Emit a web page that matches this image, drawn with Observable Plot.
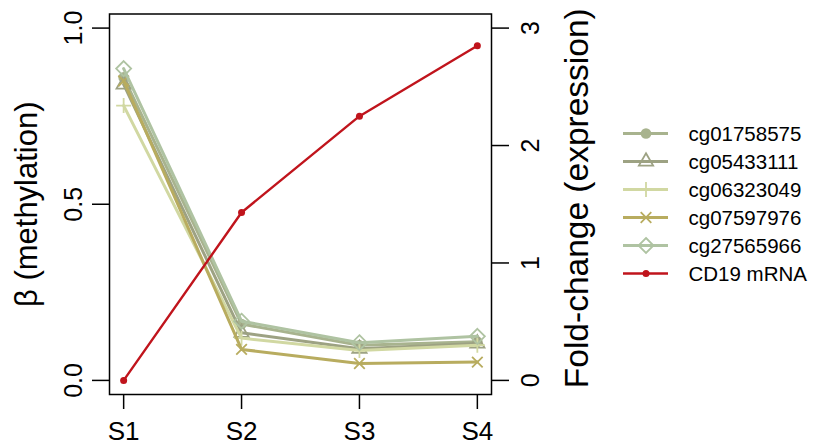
<!DOCTYPE html>
<html><head><meta charset="utf-8">
<script src="https://cdn.jsdelivr.net/npm/d3@7"></script>
<script src="https://cdn.jsdelivr.net/npm/@observablehq/plot@0.6"></script>
<style>
body{margin:0;background:#fff;}
#wrap{position:relative;width:830px;height:447px;background:#fff;}
#legend{position:absolute;left:600px;top:110px;}
</style></head><body><div id="wrap"></div>
<script>
// ---- data ----
const stages = ["S1", "S2", "S3", "S4"];
const probes = ["cg01758575", "cg05433111", "cg06323049", "cg07597976", "cg27565966"];
const cg01758575 = [0.86, 0.16, 0.10, 0.11];
const cg05433111 = [0.84, 0.135, 0.09, 0.105];
const cg06323049 = [0.78, 0.12, 0.085, 0.10];
const cg07597976 = [0.85, 0.088, 0.048, 0.052];
const cg27565966 = [0.885, 0.168, 0.107, 0.125];
const cd19 = [0, 1.43, 2.25, 2.85];
const cd19Label = "CD19 mRNA";
const betaTicks = [0, 0.5, 1.0];
const foldTicks = [0, 1, 2, 3];
const foldPerBeta = 3; // right axis: 3 fold units = 1 beta unit
const yTitleLeft = "β (methylation)";
const yTitleRight = "Fold-change (expression)";

const probeColors = ["#a8b38e", "#9da283", "#d1d8a2", "#b8ac5f", "#afc3a2"];
const cd19Color = "#c0141c";

// R-style plotting symbols (pch 16, 2, 3, 4, 5)
const K = Math.SQRT2;
const pchTri = {draw(c, s){const R=Math.sqrt(s/Math.PI);const r=1.5551*R,xc=1.3468*R,yc=0.7776*R;c.moveTo(0,-r);c.lineTo(xc,yc);c.lineTo(-xc,yc);c.closePath();}};
const pchPlus = {draw(c, s){const h=K*Math.sqrt(s/Math.PI);c.moveTo(-h,0);c.lineTo(h,0);c.moveTo(0,-h);c.lineTo(0,h);}};
const pchTimes = {draw(c, s){const R=Math.sqrt(s/Math.PI);c.moveTo(-R,-R);c.lineTo(R,R);c.moveTo(-R,R);c.lineTo(R,-R);}};
const pchDiamond = {draw(c, s){const h=K*Math.sqrt(s/Math.PI);c.moveTo(0,-h);c.lineTo(h,0);c.lineTo(0,h);c.lineTo(-h,0);c.closePath();}};
const probeSymbols = ["circle", pchTri, pchPlus, pchTimes, pchDiamond];
const probeFilled = [true, false, false, false, false];

const seriesValues = [cg01758575, cg05433111, cg06323049, cg07597976, cg27565966];
const rows = probes.map((p, i) => seriesValues[i].map((v, j) => ({probe: p, stage: j + 1, value: v})));
const cdRows = cd19.map((v, j) => ({stage: j + 1, fold: v}));

const font = "'Liberation Sans', Arial, sans-serif";
const R = 5.3;

const marks = [
  Plot.frame({stroke: "black", strokeWidth: 1.5}),
  Plot.axisX({ticks: [1, 2, 3, 4], tickFormat: i => stages[i - 1], tickSize: 15, tickPadding: 12, fontSize: 26, label: null, strokeWidth: 1.5}),
  Plot.axisY({ticks: betaTicks, tickFormat: d3.format(".1f"), tickSize: 17, tickPadding: 11, tickRotate: -90, fontSize: 25, label: null, strokeWidth: 1.5}),
  Plot.axisY({anchor: "right", ticks: foldTicks.map(v => v / foldPerBeta), tickFormat: d => String(Math.round(d * foldPerBeta)), tickSize: 17, tickPadding: 13, tickRotate: -90, lineAnchor: "top", fontSize: 25, label: null, strokeWidth: 1.5}),
  Plot.text([yTitleLeft], {text: d => d, frameAnchor: "left", dx: -73, rotate: -90, textAnchor: "middle", lineAnchor: "bottom", fontSize: 31}),
  Plot.text([yTitleRight], {text: d => d, frameAnchor: "right", dx: 96, dy: -6, rotate: -90, textAnchor: "middle", lineAnchor: "bottom", fontSize: 33.5})
];
probes.forEach((p, i) => {
  marks.push(Plot.line(rows[i], {x: "stage", y: "value", stroke: probeColors[i], strokeWidth: 3}));
  marks.push(Plot.dot(rows[i], {x: "stage", y: "value", symbol: () => probeSymbols[i], r: R,
    stroke: probeColors[i], fill: probeFilled[i] ? probeColors[i] : "none", strokeWidth: probeFilled[i] ? 0 : 1.8}));
});
marks.push(Plot.line(cdRows, {x: "stage", y: d => d.fold / foldPerBeta, stroke: cd19Color, strokeWidth: 2.4}));
marks.push(Plot.dot(cdRows, {x: "stage", y: d => d.fold / foldPerBeta, r: 3.5, fill: cd19Color, stroke: "none"}));

const chart = Plot.plot({
  width: 830, height: 447,
  marginLeft: 109, marginRight: 339, marginTop: 13.5, marginBottom: 53,
  x: {domain: [0.88, 4.12]},
  y: {domain: [-0.04, 1.04]},
  style: {fontFamily: font, color: "black", background: "white", overflow: "visible"},
  marks
});

// ---- legend ----
const legendNames = [...probes, cd19Label];
const legendColors = [...probeColors, cd19Color];
const legendSymbols = [...probeSymbols, "circle"];
const legendR = [R, R, R, R, R, 3.5];
const legendFilled = [...probeFilled, true];
const legendMarks = [];
legendNames.forEach((name, i) => {
  const d = [{name}];
  legendMarks.push(Plot.ruleY(d, {y: "name", x1: 0, x2: 1, stroke: legendColors[i], strokeWidth: i === 5 ? 2.6 : 3}));
  legendMarks.push(Plot.dot(d, {x: 0.5, y: "name", symbol: () => legendSymbols[i], r: legendR[i],
    stroke: legendColors[i], fill: legendFilled[i] ? legendColors[i] : "none", strokeWidth: legendFilled[i] ? 0 : 1.8}));
});
legendMarks.push(Plot.text(legendNames, {x: 1, y: d => d, text: d => d, dx: 20, dy: 1, textAnchor: "start", fontSize: 20.5, fill: "black"}));
const legend = Plot.plot({
  width: 230, height: 190,
  margin: 0,
  x: {domain: [0, 1], range: [23, 68], axis: null},
  y: {type: "point", domain: legendNames, range: [23, 163], padding: 0, axis: null},
  style: {fontFamily: font, background: "transparent", overflow: "visible"},
  marks: legendMarks
});
legend.id = "legend";
const wrap = document.getElementById("wrap");
wrap.appendChild(chart);
wrap.appendChild(legend);
</script>
</body></html>
